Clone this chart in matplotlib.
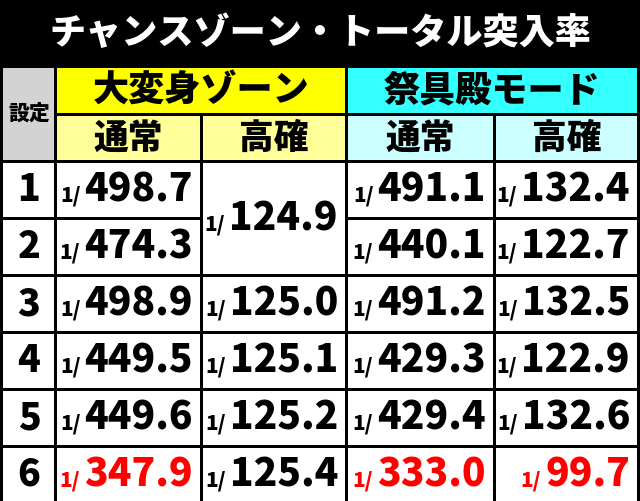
import matplotlib.pyplot as plt
from matplotlib.patches import Rectangle

plt.rcParams['font.family'] = ['Noto Sans CJK JP', 'DejaVu Sans']
plt.rcParams['font.weight'] = 'heavy'

title = 'チャンスゾーン・トータル突入率'
groups = ['大変身ゾーン', '祭具殿モード']
subheads = ['通常', '高確', '通常', '高確']
settings = ['1', '2', '3', '4', '5', '6']
zone_normal = ['498.7', '474.3', '498.9', '449.5', '449.6', '347.9']
zone_high = ['124.9', None, '125.0', '125.1', '125.2', '125.4']
mode_normal = ['491.1', '440.1', '491.2', '429.3', '429.4', '333.0']
mode_high = ['132.4', '122.7', '132.5', '122.9', '132.6', '99.7']
red_cells = {(5, 0), (5, 2), (5, 3)}

W, H = 640, 501
fig = plt.figure(figsize=(W / 100, H / 100), dpi=100)
fig.patch.set_facecolor('black')
ax = fig.add_axes([0, 0, 1, 1])
ax.set_xlim(0, W)
ax.set_ylim(H, 0)
ax.axis('off')


def cell(x0, y0, x1, y1, color):
    ax.add_patch(Rectangle((x0, y0), x1 - x0, y1 - y0, facecolor=color, edgecolor='none'))


ax.text(W / 2, 33, title, color='white', fontsize=26, ha='center', va='center')

cols = [(57, 200), (203, 345), (348, 493), (496, 637)]
cell(3, 68, 54, 160, '#d3d3d3')
ax.text(29, 114, '設定', fontsize=15, ha='center', va='center')
cell(57, 68, 345, 113, '#ffff00')
cell(348, 68, 637, 113, '#33ffff')
ax.text(201, 90, groups[0], fontsize=26, ha='center', va='center')
ax.text(492, 90, groups[1], fontsize=26, ha='center', va='center')
sub_colors = ['#ffff99', '#ffff99', '#ccffff', '#ccffff']
for (x0, x1), name, c in zip(cols, subheads, sub_colors):
    cell(x0, 116, x1, 160, c)
    ax.text((x0 + x1) / 2, 138, name, fontsize=25, ha='center', va='center')

rows = [(163, 217), (220, 274), (277, 331), (334, 388), (391, 445), (448, 501)]
columns = [zone_normal, zone_high, mode_normal, mode_high]

fig.canvas.draw()
renderer = fig.canvas.get_renderer()


def value(x1, yc, val, color):
    t = ax.text(x1 - 7, yc, val, fontsize=28, ha='right', va='center', color=color)
    bb = t.get_window_extent(renderer)
    left = ax.transData.inverted().transform((bb.x0, 0))[0]
    ax.text(left - 4, yc + 6, '1/', fontsize=15, ha='right', va='center', color=color)


for i, ((y0, y1), s) in enumerate(zip(rows, settings)):
    cell(3, y0, 54, y1, 'white')
    ax.text(29, (y0 + y1) / 2, s, fontsize=27, ha='center', va='center')
    for j, ((x0, x1), data) in enumerate(zip(cols, columns)):
        if data is zone_high and i == 1:
            continue
        if data is zone_high and i == 0:
            yb = rows[1][1]
        else:
            yb = y1
        cell(x0, y0, x1, yb, 'white')
        color = '#ff0000' if (i, j) in red_cells else 'black'
        value(x1, (y0 + yb) / 2, data[i], color)

fig.savefig('out.png', dpi=100, facecolor='black')
